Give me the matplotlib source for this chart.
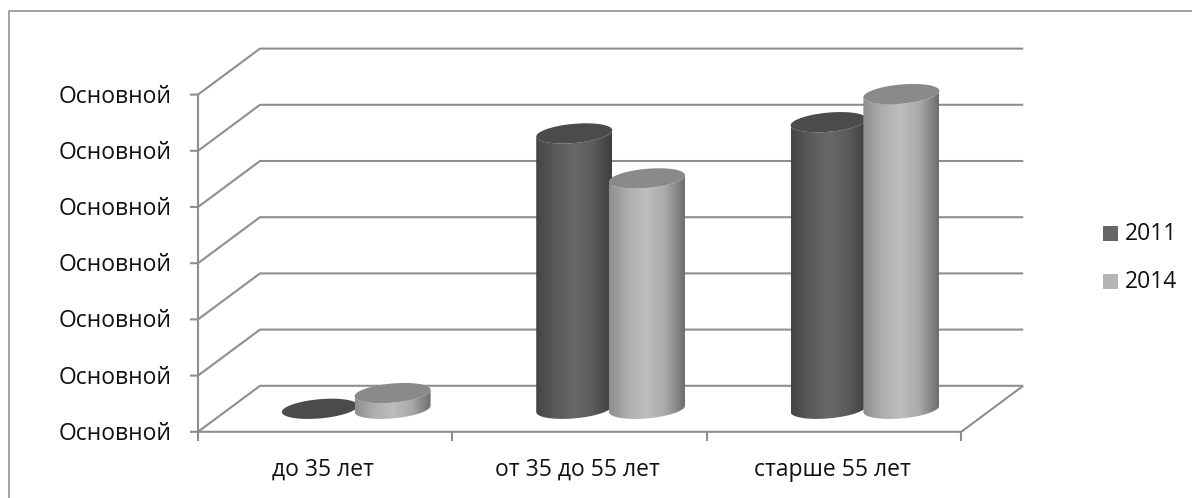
"""3D-style cylinder chart, age groups 2011 vs 2014, drawn on a flat axes with an oblique projection."""

import matplotlib

matplotlib.use("Agg")
import matplotlib.pyplot as plt  # noqa: E402
import numpy as np  # noqa: E402
from matplotlib.colors import LinearSegmentedColormap  # noqa: E402
from matplotlib.patches import Polygon, Rectangle  # noqa: E402

CATEGORIES = ["до 35 лет", "от 35 до 55 лет", "старше 55 лет"]
YEARS = ["2011", "2014"]
VALUES_2011 = [0.0, 4.9, 5.1]
VALUES_2014 = [0.28, 4.1, 5.6]
TICK_LABELS = ["Основной"] * 7

GRID = "#8e8e8e"
TEXT = "#111111"
FONT = ["Open Sans", "DejaVu Sans"]
FS = 16.5

# projection: category units / value units / depth (0 front, 1 back) to pixels
X0, Y0 = 198.0, 431.8
CAT_W = 254.4
UNIT_H = 56.2
DEPTH_X, DEPTH_Y = 62.0, 46.0

BAR_OFFSET = 0.143  # half distance between the two cylinders, in categories
RX, TILT, RY = 38.0, 3.2, 9.6

STYLE = {
    "2011": dict(top="#4b4b4b", side=["#454545", "#5a5a5a", "#686868", "#5c5c5c", "#3e3e3e"], key="#666666"),
    "2014": dict(top="#8a8a8a", side=["#8e8e8e", "#aeaeae", "#bebebe", "#a8a8a8", "#6e6e6e"], key="#b5b5b5"),
}


def project(x, z, d=0.0):
    return X0 + x * CAT_W + d * DEPTH_X, Y0 - z * UNIT_H - d * DEPTH_Y


def ellipse(cx, cy, t):
    return cx + RX * np.cos(t), cy - TILT * np.cos(t) - RY * np.sin(t)


def cylinder(ax, x, value, style, zorder):
    cx, base = project(x, 0, 0.5)
    _, top = project(x, value, 0.5)
    if value > 0:
        # lower half of the base ellipse, then up to the top ellipse
        t_low = np.linspace(np.pi, 2 * np.pi, 60)
        bx, by = ellipse(cx, base, t_low)
        tx, ty = ellipse(cx, top, t_low[::-1])
        body = Polygon(np.column_stack([np.r_[bx, tx], np.r_[by, ty]]), closed=True, fc="none", ec="none")
        ax.add_patch(body)
        cmap = LinearSegmentedColormap.from_list("side", style["side"])
        im = ax.imshow(np.linspace(0, 1, 128)[None, :], cmap=cmap, aspect="auto", interpolation="bilinear",
                       extent=(cx - RX, cx + RX, base + 12, top - 12), zorder=zorder)
        im.set_clip_path(body)
    ex, ey = ellipse(cx, top, np.linspace(0, 2 * np.pi, 120))
    ax.fill(ex, ey, color=style["top"], lw=0, zorder=zorder + 0.1)


def main():
    plt.rcParams["font.family"] = FONT
    fig = plt.figure(figsize=(11.92, 4.98), dpi=100)
    ax = fig.add_axes([0, 0, 1, 1])
    ax.axis("off")

    # chart frame is cropped at the right and bottom of the picture
    ax.plot([9, 9, 1192], [498, 11, 11], color="#9a9a9a", lw=1.3, zorder=1)

    n_cat = len(CATEGORIES)
    line = dict(color=GRID, lw=1.5, solid_capstyle="butt", zorder=1)
    for i, label in enumerate(TICK_LABELS):
        fx, fy = project(0, i)
        bx, by = project(0, i, 1)
        ex, ey = project(n_cat, i, 1)
        ax.plot([fx - 8, fx, bx, ex], [fy, fy, by, ey], **line)
        ax.text(172, fy + 2, label, ha="right", va="center", color=TEXT, fontsize=FS)
    ax.plot(*zip(project(0, 0), project(0, len(TICK_LABELS) - 1)), **line)
    # floor front edge and right edge
    ax.plot(*zip(project(0, 0), project(n_cat, 0), project(n_cat, 0, 1)), **line)
    for i in range(n_cat + 1):
        fx, fy = project(i, 0)
        ax.plot([fx, fx], [fy, fy + 9], **line)
    for i, cat in enumerate(CATEGORIES):
        fx, fy = project(i + 0.5, 0)
        ax.text(fx - 2, fy + 38, cat, ha="center", va="center", color=TEXT, fontsize=FS)

    z = 3
    for i in range(n_cat):
        cylinder(ax, i + 0.5 - BAR_OFFSET, VALUES_2011[i], STYLE["2011"], z)
        cylinder(ax, i + 0.5 + BAR_OFFSET, VALUES_2014[i], STYLE["2014"], z + 1)
        z += 2

    for year, y in zip(YEARS, [233.5, 281.5]):
        ax.add_patch(Rectangle((1103, y - 7.5), 15, 15, fc=STYLE[year]["key"], ec="none", zorder=2))
        ax.text(1125, y, year, ha="left", va="center", color=TEXT, fontsize=FS)

    ax.set_xlim(0, 1192)
    ax.set_ylim(498, 0)
    fig.savefig("out.png", dpi=100, facecolor="white")


if __name__ == "__main__":
    main()
